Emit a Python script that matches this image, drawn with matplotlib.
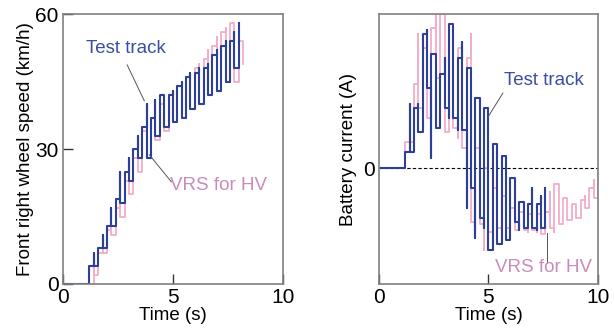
import numpy as np
import matplotlib.pyplot as plt

plt.rcParams['font.family'] = ['Liberation Sans', 'DejaVu Sans']

BLUE = '#2e3f9a'
PINK = '#f2adc8'
BLUE_TXT = '#3b4ea3'
PINK_TXT = '#c98bbd'

DT = 0.2  # one min/max bar every 0.2 s

# front right wheel speed (km/h): min and max within each 0.2 s slot
speed_test_lo = [0, 0, 0, 0, 0, 0, 1, 4, 7, 8, 10, 13, 15, 18, 21, 23, 27, 28, 30, 28,
                 31, 33, 34, 35, 35, 36, 37, 37, 38, 39, 40, 40, 41, 42, 42, 43, 44,
                 45, 46, 48, 49]
speed_test_hi = [0, 0, 0, 0, 0, 0, 4, 7, 8, 11, 13, 17, 19, 25, 25, 28, 30, 33, 35, 40,
                 37, 41, 42, 42, 42, 43, 44, 45, 46, 47, 47, 48, 48, 49, 51, 52, 53,
                 54, 54, 56, 58]
speed_vrs_lo = [0, 0, 0, 0, 0, 0, 0, 2, 5, 7, 9, 11, 13, 15, 18, 20, 23, 25, 27, 28,
                30, 32, 33, 34, 35, 36, 37, 37, 38, 39, 40, 40, 41, 42, 43, 43, 44, 45,
                46, 45, 46, 49]
speed_vrs_hi = [0, 0, 0, 0, 0, 0, 0, 5, 7, 9, 12, 14, 17, 20, 23, 26, 28, 31, 34, 36,
                37, 39, 40, 41, 42, 43, 44, 45, 46, 47, 48, 49, 50, 52, 53, 55, 56, 57,
                58, 57, 54, 53]

# battery current (arbitrary units, 0 = zero current): min and max per slot
current_test_lo = [0, 0, 0, 0, 0, 0, 1, 8, 14, 18, 39, 40, 5, 20, 20, 30, 25, 25, 19,
                   19, -20, -10, -35, -25, -30, -41, -35, -38, -34, -36, -25, -27,
                   -31, -30, -30, -30, -31, -30, -25]
current_test_hi = [0, 0, 0, 0, 0, 0, 8, 32, 30, 32, 67, 69, 57, 47, 47, 55, 72, 65, 55,
                   63, 50, 38, 35, 25, 30, 28, 12, 8, 6, -4, -5, -16, -17, -20, -18,
                   -10, -18, -14, -10]
current_vrs_lo = [0, 0, 0, 0, 0, 0, 0, 13, 28, 30, 35, 25, 35, 45, 50, 18, 30, 20, 15,
                  10, 5, -27, -30, -28, -41, -32, -30, -30, -29, -30, -29, -31, -30,
                  -31, -32, -31, -32, -33, -33, -30, -32, -28, -27, -26, -25, -25, -22,
                  -20, -17, -15, -7]
current_vrs_hi = [0, 0, 0, 0, 0, 0, 13, 30, 42, 67, 60, 65, 70, 77, 77, 77, 72, 67, 60,
                  55, 55, 67, 10, 5, 0, -5, -10, -12, -14, -18, -20, -21, -22, -22, -23,
                  -22, -23, -24, -22, -12, -8, -13, -15, -16, -18, -20, -16, -14, -10,
                  -6, -2]


def square(lo, hi):
    # each slot: vertical stroke over its range, then held at the end value
    t, y = [], []
    n = len(lo)
    for i, (a, b) in enumerate(zip(lo, hi)):
        first, last = (a, b) if i % 2 == 0 else (b, a)
        t += [i * DT, i * DT]
        y += [first, last]
        if i < n - 1:
            t.append((i + 1) * DT)
            y.append(last)
    return np.array(t), np.array(y)


fig = plt.figure(figsize=(6.14, 3.3), dpi=100)
ax1 = fig.add_axes([0.1026, 0.1394, 0.358, 0.818])
ax2 = fig.add_axes([0.617, 0.1394, 0.357, 0.818])

FS = 13.5
for ax in (ax1, ax2):
    for s in ax.spines.values():
        s.set_color('#808080')
        s.set_linewidth(1.2)
    ax.set_xlim(0, 10)
    ax.set_xticks([0, 5, 10])
    ax.tick_params(direction='in', length=7, width=1.0, color='#333333',
                   labelsize=15, pad=3)
    ax.set_xlabel('Time (s)', fontsize=FS, labelpad=0)

# left: wheel speed
ax1.plot(*square(speed_vrs_lo, speed_vrs_hi), color=PINK, lw=1.3)
ax1.plot(*square(speed_test_lo, speed_test_hi), color=BLUE, lw=1.5)
ax1.set_ylim(0, 60)
ax1.set_yticks([0, 30, 60])
ax1.set_ylabel('Front right wheel speed (km/h)', fontsize=FS, labelpad=1)
ax1.text(2.88, 52.4, 'Test track', color=BLUE_TXT, fontsize=FS, ha='center', va='center')
ax1.plot([2.92, 3.7], [48.7, 40.7], color='#555555', lw=0.7)
ax1.text(7.08, 22, 'VRS for HV', color=PINK_TXT, fontsize=FS, ha='center', va='center')
ax1.plot([3.93, 4.93], [28.7, 22.7], color='#555555', lw=0.7)

# right: battery current
ax2.axhline(0, color='black', lw=0.8, ls=(0, (3, 2)))
ax2.plot(*square(current_vrs_lo, current_vrs_hi), color=PINK, lw=1.3)
ax2.plot(*square(current_test_lo, current_test_hi), color=BLUE, lw=1.5)
ax2.set_ylim(-58, 77)
ax2.set_yticks([0])
ax2.tick_params(axis='y', length=0)
ax2.set_ylabel('Battery current (A)', fontsize=FS, labelpad=4)
ax2.text(7.53, 44, 'Test track', color=BLUE_TXT, fontsize=FS, ha='center', va='center')
ax2.plot([5.66, 4.98], [37.5, 25.5], color='#555555', lw=0.7)
ax2.text(7.53, -49.5, 'VRS for HV', color=PINK_TXT, fontsize=FS, ha='center', va='center')
ax2.plot([7.67, 7.67], [-32.5, -47.5], color='#555555', lw=0.7)

fig.savefig('out.png', dpi=100)
